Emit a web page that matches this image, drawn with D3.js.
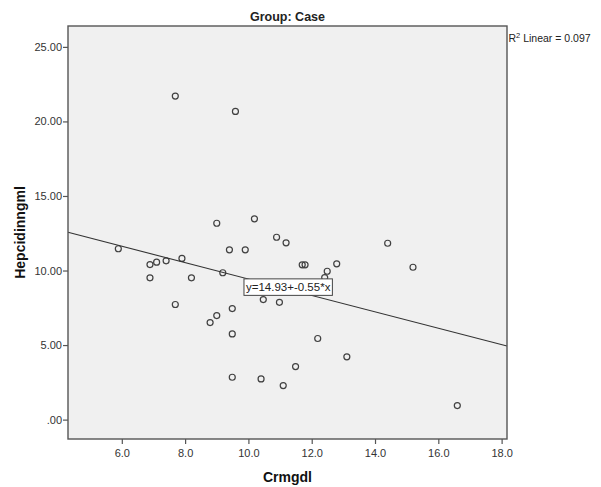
<!DOCTYPE html>
<html>
<head>
<meta charset="utf-8">
<script src="https://cdn.jsdelivr.net/npm/d3@7"></script>
<style>
  html, body { margin: 0; padding: 0; background: #ffffff; }
  svg { display: block; font-family: "Liberation Sans", Arial, sans-serif; }
</style>
</head>
<body>
<svg id="chart" width="601" height="487"></svg>
<script>
// ---- data ----
const crmgdl = [5.89, 6.89, 7.10, 7.40, 7.90, 6.89, 8.20, 9.19, 7.69, 8.79, 9.00, 9.49, 9.49, 9.49,
  9.00, 9.40, 9.90, 10.19, 10.89, 11.19, 11.70, 11.79, 12.79, 12.49, 12.41, 14.40, 15.20, 13.11,
  16.60, 10.98, 10.47, 12.19, 11.49, 10.40, 11.10, 7.69, 9.59];
const hepcidin = [11.46, 10.40, 10.56, 10.65, 10.81, 9.51, 9.51, 9.85, 7.72, 6.51, 6.98, 7.45, 5.75, 2.84,
  13.17, 11.39, 11.39, 13.47, 12.23, 11.86, 10.38, 10.38, 10.45, 9.95, 9.53, 11.83, 10.22, 4.21,
  0.94, 7.87, 8.05, 5.44, 3.56, 2.73, 2.28, 21.70, 20.67];
const xDomain = [4.30, 18.17];
const yDomain = [-1.3, 26.4];
const xTicks = [6, 8, 10, 12, 14, 16, 18];
const xTickLabels = ["6.0", "8.0", "10.0", "12.0", "14.0", "16.0", "18.0"];
const yTicks = [0, 5, 10, 15, 20, 25];
const yTickLabels = [".00", "5.00", "10.00", "15.00", "20.00", "25.00"];
const fitIntercept = 14.93;
const fitSlope = -0.55;
const labelAnchorX = 9.86;
const titleText = "Group: Case";
const xLabel = "Crmgdl";
const yLabel = "Hepcidinngml";
const equationText = "y=14.93+-0.55*x";
const r2Value = "0.097";

// ---- layout ----
const plot = { left: 68, right: 507, top: 26, bottom: 439 };
const svg = d3.select("#chart");

const x = d3.scaleLinear().domain(xDomain).range([plot.left, plot.right]);
const y = d3.scaleLinear().domain(yDomain).range([plot.bottom, plot.top]);

// plot background
svg.append("rect")
  .attr("x", plot.left).attr("y", plot.top)
  .attr("width", plot.right - plot.left).attr("height", plot.bottom - plot.top)
  .attr("fill", "#f0f0f0");

// points
svg.append("g").selectAll("circle")
  .data(crmgdl.map((v, i) => [v, hepcidin[i]]))
  .join("circle")
  .attr("cx", d => x(d[0]))
  .attr("cy", d => y(d[1]))
  .attr("r", 3)
  .attr("fill", "none")
  .attr("stroke", "#404040")
  .attr("stroke-width", 1.2);

// fit line
const fit = v => fitIntercept + fitSlope * v;
svg.append("line")
  .attr("x1", x(xDomain[0])).attr("y1", y(fit(xDomain[0])))
  .attr("x2", x(xDomain[1])).attr("y2", y(fit(xDomain[1])))
  .attr("stroke", "#333")
  .attr("stroke-width", 1.1);

// equation label box
const bx = x(labelAnchorX), by = y(fit(labelAnchorX)) + 1;
const eqG = svg.append("g").attr("transform", `translate(${bx},${by})`);
const eqText = eqG.append("text")
  .attr("x", 2).attr("y", 12.5)
  .attr("font-size", 11.5)
  .attr("fill", "#222")
  .text(equationText);
const tw = eqText.node().getComputedTextLength();
eqG.insert("rect", "text")
  .attr("x", 0).attr("y", 0)
  .attr("width", tw + 4).attr("height", 16.5)
  .attr("fill", "#ffffff")
  .attr("stroke", "#444")
  .attr("stroke-width", 1);

// frame
svg.append("rect")
  .attr("x", plot.left).attr("y", plot.top)
  .attr("width", plot.right - plot.left).attr("height", plot.bottom - plot.top)
  .attr("fill", "none")
  .attr("stroke", "#555")
  .attr("stroke-width", 1.4);

// axes
const xAxis = d3.axisBottom(x)
  .tickValues(xTicks)
  .tickFormat((d, i) => xTickLabels[i])
  .tickSize(5).tickSizeOuter(0).tickPadding(5);
const gx = svg.append("g").attr("transform", `translate(0,${plot.bottom})`).call(xAxis);
gx.select(".domain").remove();
gx.selectAll("line").attr("stroke", "#555").attr("stroke-width", 1.2);
gx.selectAll("text").attr("font-size", 11).attr("fill", "#333")
  .attr("font-family", "'Liberation Sans', Arial, sans-serif");

const yAxis = d3.axisLeft(y)
  .tickValues(yTicks)
  .tickFormat((d, i) => yTickLabels[i])
  .tickSize(5).tickSizeOuter(0).tickPadding(1);
const gy = svg.append("g").attr("transform", `translate(${plot.left},0)`).call(yAxis);
gy.select(".domain").remove();
gy.selectAll("line").attr("stroke", "#555").attr("stroke-width", 1.2);
gy.selectAll("text").attr("font-size", 11).attr("fill", "#333")
  .attr("font-family", "'Liberation Sans', Arial, sans-serif");

// title
svg.append("text")
  .attr("x", (plot.left + plot.right) / 2).attr("y", 21)
  .attr("text-anchor", "middle")
  .attr("font-size", 12.5).attr("font-weight", "bold").attr("fill", "#222")
  .text(titleText);

// R2 label
const r2 = svg.append("text")
  .attr("x", plot.right + 1.5).attr("y", 41.5)
  .attr("font-size", 10.5).attr("fill", "#222");
r2.append("tspan").text("R");
r2.append("tspan").attr("font-size", 7.5).attr("dy", -4).text("2");
r2.append("tspan").attr("dy", 4).text(" Linear = " + r2Value);

// axis titles
svg.append("text")
  .attr("x", (plot.left + plot.right) / 2).attr("y", 481.5)
  .attr("text-anchor", "middle")
  .attr("font-size", 14).attr("font-weight", "bold").attr("fill", "#111")
  .text(xLabel);

svg.append("text")
  .attr("transform", `translate(25,${(plot.top + plot.bottom) / 2}) rotate(-90)`)
  .attr("text-anchor", "middle")
  .attr("font-size", 14).attr("font-weight", "bold").attr("fill", "#111")
  .text(yLabel);
</script>
</body>
</html>
